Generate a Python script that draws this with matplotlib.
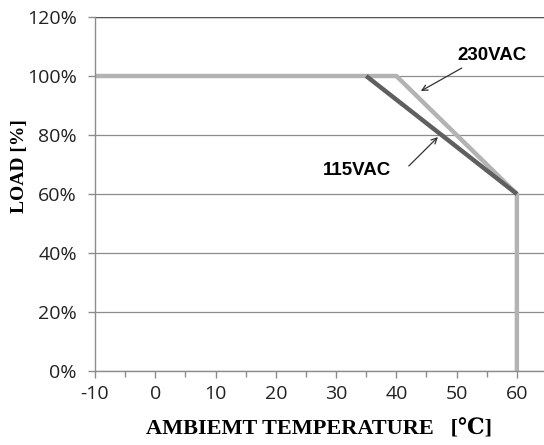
import matplotlib
matplotlib.use("Agg")
import matplotlib.pyplot as plt
from matplotlib.ticker import MultipleLocator, FuncFormatter

temp_230 = [-10, 40, 60, 60]
load_230 = [100, 100, 60, 0]
temp_115 = [35, 60]
load_115 = [100, 60]
xticks = [-10, 0, 10, 20, 30, 40, 50, 60]
yticks = [0, 20, 40, 60, 80, 100, 120]

fig = plt.figure(figsize=(5.44, 4.45), dpi=100)
ax = fig.add_axes([95/544, 1-371/445, 1-95/544, (371-17)/445])
ax.set_xlim(-10, 64.5)
ax.set_ylim(0, 120)

ax.plot(temp_115, load_115, color="#5f5f5f", lw=3.2, solid_capstyle="butt", zorder=3)
ax.plot(temp_230, load_230, color="#b3b3b3", lw=3.2, solid_capstyle="butt", zorder=2)

ax.set_yticks(yticks)
ax.set_xticks(xticks)
ax.set_xticklabels([str(v) for v in xticks])
ax.xaxis.set_minor_locator(MultipleLocator(5))
ax.yaxis.set_major_formatter(FuncFormatter(lambda v, p: f"{int(v)}%"))
ax.grid(axis="y", color="#8c8c8c", lw=0.9, zorder=0)
ax.axhline(120, color="#555555", lw=1.0, zorder=1)
ax.set_axisbelow(True)
for s in ["top", "right"]:
    ax.spines[s].set_visible(False)
for s in ["left", "bottom"]:
    ax.spines[s].set_color("#8c8c8c")
    ax.spines[s].set_linewidth(1.0)
ax.tick_params(axis="both", which="both", color="#8c8c8c", length=5, width=1.0,
               labelsize=14, labelcolor="#222222")
ax.tick_params(axis="x", which="minor", length=4)
for lab in ax.get_xticklabels() + ax.get_yticklabels():
    lab.set_family("Open Sans")
ax.tick_params(axis="x", pad=5)
ax.tick_params(axis="y", pad=8)

ax.set_xlabel("AMBIEMT TEMPERATURE   [℃]", family=["Liberation Serif", "DejaVu Serif"],
              fontweight="bold", fontsize=16, labelpad=12)
ax.set_ylabel("LOAD [%]", family=["Liberation Serif", "DejaVu Serif"],
              fontweight="bold", fontsize=14)
ax.yaxis.set_label_coords(-0.15, 0.58)

ax.text(55.8, 107.1, "230VAC", fontsize=13.5, fontweight="bold", family="Liberation Sans",
        ha="center", va="center")
ax.annotate("", xy=(44.06, 94.9), xytext=(50.86, 102.7),
            arrowprops=dict(arrowstyle="->", color="#333333", lw=0.9, shrinkA=0, shrinkB=0))
ax.text(33.45, 67.8, "115VAC", fontsize=13.5, fontweight="bold", family="Liberation Sans",
        ha="center", va="center")
ax.annotate("", xy=(46.9, 79.3), xytext=(42.07, 69.5),
            arrowprops=dict(arrowstyle="->", color="#333333", lw=0.9, shrinkA=0, shrinkB=0))

fig.savefig("out.png", dpi=100)
